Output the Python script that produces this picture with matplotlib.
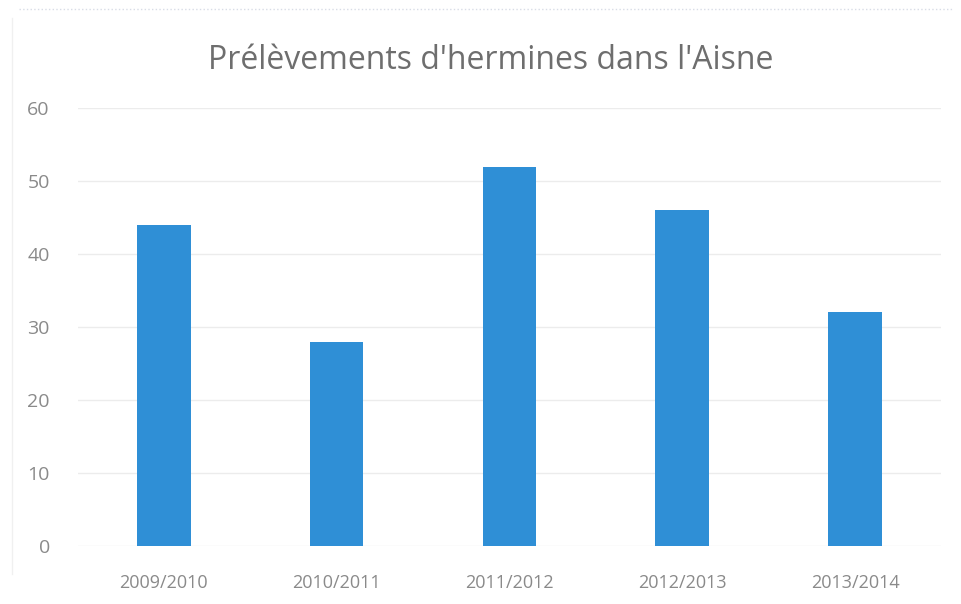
import matplotlib

matplotlib.use("Agg")
import matplotlib.pyplot as plt
import numpy as np

# harvest counts per hunting season
seasons = ["2009/2010", "2010/2011", "2011/2012", "2012/2013", "2013/2014"]
prelevements = [44, 28, 52, 46, 32]
yticks = [0, 10, 20, 30, 40, 50, 60]

BAR_COLOR = "#2f8fd6"
TEXT_GREY = "#8a8a8a"

plt.rcParams["font.family"] = ["Open Sans", "DejaVu Sans"]

fig = plt.figure(figsize=(9.62, 6.04), dpi=100)
ax = fig.add_axes([0.0806, 0.096, 0.898, 0.725])

x = np.arange(len(seasons))
ax.bar(x, prelevements, width=0.31, color=BAR_COLOR, zorder=3)

ax.set_xlim(-0.5, len(seasons) - 0.5)
ax.set_ylim(0, 60)
ax.set_yticks(yticks)
ax.set_xticks(x)
ax.set_xticklabels(seasons)

ax.grid(axis="y", color="#ececec", lw=1.0, zorder=0)
for s in ["top", "right", "left", "bottom"]:
    ax.spines[s].set_visible(False)
ax.tick_params(axis="both", length=0, colors=TEXT_GREY)
ax.tick_params(axis="y", labelsize=14, pad=20)
ax.tick_params(axis="x", labelsize=13, pad=20)

fig.text(0.51, 0.90, "Prélèvements d'hermines dans l'Aisne",
         ha="center", va="center", fontsize=23, color="#6e6e6e")

# faint border of the chart frame seen in the scan
fig.add_artist(plt.Line2D([0.02, 0.99], [0.985, 0.985], color="#d8dce6", lw=1, ls=":"))
fig.add_artist(plt.Line2D([0.012, 0.012], [0.05, 0.97], color="#f0f0f0", lw=1))

fig.savefig("out.png", dpi=100)
